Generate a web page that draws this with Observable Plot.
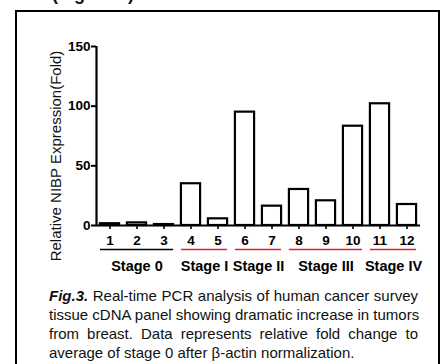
<!DOCTYPE html>
<html>
<head>
<meta charset="utf-8">
<script src="https://cdn.jsdelivr.net/npm/d3@7"></script>
<script src="https://cdn.jsdelivr.net/npm/@observablehq/plot@0.6"></script>
<style>
  html, body { margin: 0; padding: 0; background: #fff; width: 446px; height: 364px; overflow: hidden; font-family: Arial, "Liberation Sans", Helvetica, sans-serif; }
  #page { position: relative; width: 446px; height: 364px; overflow: hidden; }
  #toptext { position: absolute; left: 52px; top: -15px; font-size: 18px; line-height: 18px; font-weight: bold; color: #111; white-space: nowrap; z-index: 3; }
  #chart { position: absolute; left: 0; top: 0; width: 446px; height: 290px; z-index: 1; }
  #chart svg { background: none !important; }
  .edge { position: absolute; background: #000; z-index: 4; }
  #caption { position: absolute; left: 49px; top: 286px; width: 369px; font-size: 15px; line-height: 19px; color: #111; z-index: 3; }
  #caption div { text-align: justify; text-align-last: justify; white-space: nowrap; }
  #caption div.last { text-align-last: left; }
</style>
</head>
<body>
<div id="page">
<div id="toptext">(Figure 3)</div>
<div id="chart"></div>
<div class="edge" style="left:15px; top:10px; width:2px; height:360px;"></div>
<div class="edge" style="left:15px; top:10px; width:425px; height:2px;"></div>
<div class="edge" style="left:438px; top:10px; width:2px; height:360px;"></div>
<div id="caption">
  <div><b><i>Fig.3.</i></b> Real-time PCR analysis of human cancer survey</div>
  <div>tissue cDNA panel showing dramatic increase in tumors</div>
  <div>from breast. Data represents relative fold change to</div>
  <div class="last">average of stage 0 after β-actin normalization.</div>
</div>
</div>
<script>
// Samples (x tick labels) and relative NIBP expression values
const samples = [1, 2, 3, 4, 5, 6, 7, 8, 9, 10, 11, 12];
const values = [1.5, 2.2, 0.8, 35, 5.6, 95, 16.2, 30.2, 20.7, 83.2, 102, 17.6];
// Stage groups: label, first sample, last sample
const stageLabels = ["Stage 0", "Stage I", "Stage II", "Stage III", "Stage IV"];
const stageFirst = [1, 4, 6, 8, 11];
const stageLast = [3, 5, 7, 10, 12];
const stageColors = ["#000000", "#e8202a", "#e8202a", "#e8202a", "#e8202a"];
const yTicks = [0, 50, 100, 150];
const yLabel = "Relative NIBP Expression(Fold)";

const bars = samples.map((s, i) => ({s, v: values[i]}));
const stages = stageLabels.map((label, i) => ({label, first: stageFirst[i], last: stageLast[i], color: stageColors[i]}));
const hw = 0.355; // half bar width in sample units

const font = "Arial, 'Liberation Sans', Helvetica, sans-serif";
const chart = Plot.plot({
  width: 446, height: 290, marginLeft: 96, marginRight: 26, marginTop: 46, marginBottom: 65,
  style: {background: "none", overflow: "visible", fontFamily: font, color: "#000"},
  x: {domain: [0.5, 12.5], label: null},
  y: {domain: [0, 150], label: null},
  marks: [
    Plot.rectY(bars, {x1: d => d.s - hw, x2: d => d.s + hw, y1: 0, y2: "v", fill: "white", stroke: "black", strokeWidth: 2.2}),
    Plot.axisY({ticks: yTicks, tickSize: 5, tickPadding: 1, fontSize: 13.5, fontWeight: "bold", strokeWidth: 2, tickFormat: d3.format("d")}),
    Plot.axisX({ticks: samples, tickSize: 4, tickPadding: 6, fontSize: 13.5, fontWeight: "bold", strokeWidth: 1.6, tickFormat: d3.format("d")}),
    Plot.ruleY([0], {strokeWidth: 2.2}),
    Plot.ruleX([0.5], {strokeWidth: 2.2}),
    Plot.ruleY(stages, {y: 0, x1: d => d.first - hw, x2: d => d.last + hw, stroke: "color", strokeWidth: 1.6, dy: 24}),
    Plot.text(stages, {x: d => (d.first + d.last) / 2, y: 0, text: "label", dy: 35, lineAnchor: "top", fontSize: 14.5, fontWeight: "bold", fill: "black"}),
    Plot.text([yLabel], {frameAnchor: "left", textAnchor: "middle", lineAnchor: "middle", rotate: -90, dx: -40, dy: 20, fontSize: 15, fill: "#111"})
  ]
});
document.getElementById("chart").appendChild(chart);
</script>
</body>
</html>
